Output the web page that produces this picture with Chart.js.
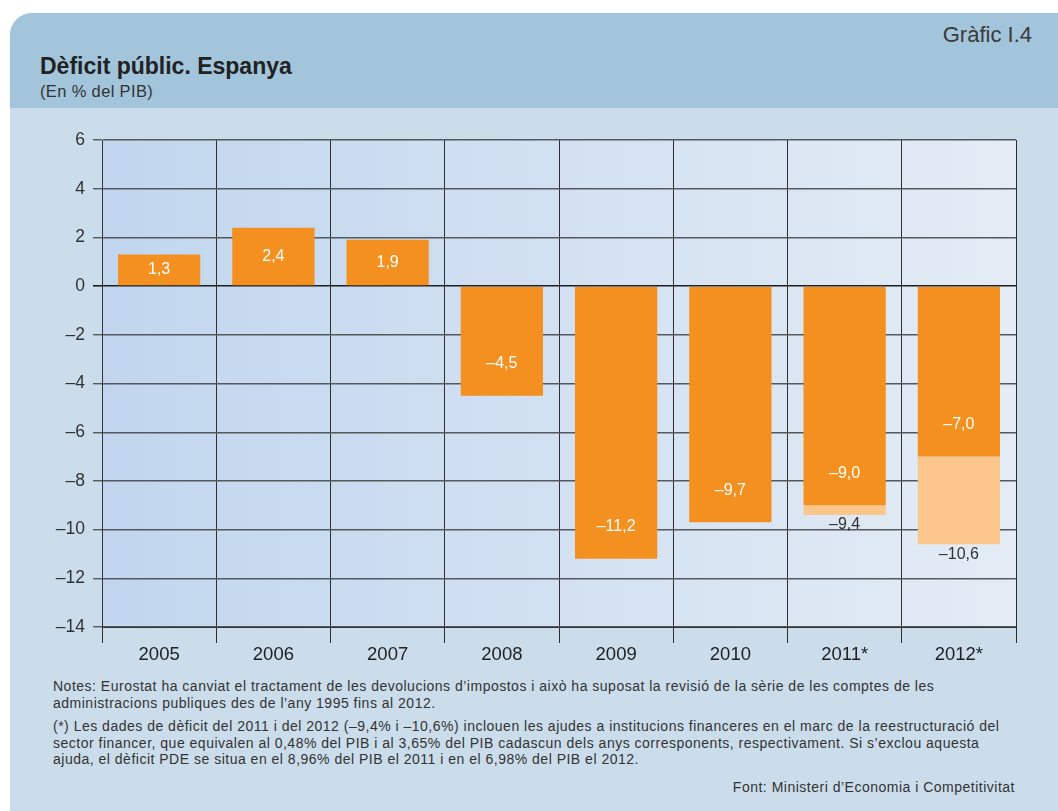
<!DOCTYPE html>
<html lang="ca">
<head>
<meta charset="utf-8">
<title>Dèficit públic. Espanya</title>
<script src="https://cdn.jsdelivr.net/npm/chart.js@4/dist/chart.umd.min.js"></script>
<style>
  html, body { margin: 0; padding: 0; background: #ffffff; }
  body { width: 1058px; height: 811px; position: relative; overflow: hidden;
         font-family: "Liberation Sans", Arial, Helvetica, sans-serif; color: #333; }
  #panel { position: absolute; left: 10px; top: 13px; width: 1048px; height: 798px;
           background: #cbddeb; border-top-left-radius: 22px; overflow: hidden; }
  #band { position: absolute; left: 0; top: 0; width: 100%; height: 95px; background: #a3c5dc; }
  .t { position: absolute; white-space: pre; line-height: 1; }
  #num { right: 26px; top: 11px; font-size: 22px; color: #3a3a3a; }
  #title { left: 30px; top: 42px; font-size: 23px; font-weight: bold; color: #222; }
  #sub { left: 30px; top: 70px; font-size: 16.5px; letter-spacing: 0.35px; color: #333; }
  .note { position: absolute; left: 43px; font-size: 14px; letter-spacing: 0.5px;
          line-height: 16.5px; white-space: pre; color: #333; }
  #src { position: absolute; right: 43px; top: 766px; font-size: 14px; letter-spacing: 0.5px;
         line-height: 16.5px; color: #333; }
  #chart { position: absolute; left: 0; top: 0; }
</style>
</head>
<body>
<div id="panel">
  <div id="band"></div>
  <div class="t" id="num">Gràfic I.4</div>
  <div class="t" id="title">Dèficit públic. Espanya</div>
  <div class="t" id="sub">(En % del PIB)</div>
  <div class="note" style="top:665px">Notes: Eurostat ha canviat el tractament de les devolucions d’impostos i això ha suposat la revisió de la sèrie de les comptes de les
administracions publiques des de l’any 1995 fins al 2012.</div>
  <div class="note" style="top:705px">(*) Les dades de dèficit del 2011 i del 2012 (–9,4% i –10,6%) inclouen les ajudes a institucions financeres en el marc de la reestructuració del
sector financer, que equivalen al 0,48% del PIB i al 3,65% del PIB cadascun dels anys corresponents, respectivament. Si s’exclou aquesta
ajuda, el dèficit PDE se situa en el 8,96% del PIB el 2011 i en el 6,98% del PIB el 2012.</div>
  <div id="src">Font: Ministeri d’Economia i Competitivitat</div>
</div>
<canvas id="chart" width="1058" height="811"></canvas>
<script>
// Public deficit of Spain, % of GDP
const years = ['2005', '2006', '2007', '2008', '2009', '2010', '2011*', '2012*'];
const deficit = [1.3, 2.4, 1.9, -4.5, -11.2, -9.7, -9.0, -7.0];
// Deficit including aid to financial institutions (only 2011 and 2012)
const deficitWithAid = [null, null, null, null, null, null, -9.4, -10.6];
const yTicks = [6, 4, 2, 0, -2, -4, -6, -8, -10, -12, -14];

const FONT = '"Liberation Sans", Arial, Helvetica, sans-serif';
const ORANGE = '#f39020';
const LIGHT_ORANGE = '#fbc68b';

// The light segment spans from the deficit without aid down to the total with aid
const aidPart = deficitWithAid.map((v, i) => v === null ? null : v - deficit[i]);

const fmt = v => v.toFixed(1).replace('.', ',').replace('-', '–');

// Plot-area background with a soft left-to-right blue gradient
const plotBackground = {
  id: 'plotBackground',
  beforeDraw(chart) {
    const { ctx, chartArea: a } = chart;
    const g = ctx.createLinearGradient(a.left, 0, a.right, 0);
    g.addColorStop(0, '#c1d6ee');
    g.addColorStop(1, '#e4ecf5');
    ctx.save();
    ctx.fillStyle = g;
    ctx.fillRect(a.left, a.top, a.right - a.left, a.bottom - a.top);
    ctx.restore();
  }
};

// Value labels: white inside the main bars, dark below the aid segment
const valueLabels = {
  id: 'valueLabels',
  afterDatasetsDraw(chart) {
    const { ctx } = chart;
    const main = chart.getDatasetMeta(0).data;
    const aid = chart.getDatasetMeta(1).data;
    ctx.save();
    ctx.font = '16px ' + FONT;
    ctx.textAlign = 'center';
    ctx.textBaseline = 'middle';
    deficit.forEach((v, i) => {
      const el = main[i];
      const len = Math.abs(el.base - el.y);
      const off = Math.min(v >= 0 ? 30 : 32, len / 2);
      const y = v >= 0 ? el.y + off : el.y - off;
      ctx.fillStyle = '#ffffff';
      ctx.fillText(fmt(v), el.x, y);
    });
    deficitWithAid.forEach((v, i) => {
      if (v === null) return;
      const el = aid[i];
      ctx.fillStyle = '#333333';
      ctx.fillText(fmt(v), el.x, el.y + 10);
    });
    ctx.restore();
  }
};

new Chart(document.getElementById('chart'), {
  type: 'bar',
  data: {
    labels: years,
    datasets: [
      { data: deficit, backgroundColor: ORANGE, stack: 's',
        categoryPercentage: 1, barPercentage: 0.72, borderWidth: 0 },
      { data: aidPart, backgroundColor: LIGHT_ORANGE, stack: 's',
        categoryPercentage: 1, barPercentage: 0.72, borderWidth: 0 }
    ]
  },
  options: {
    responsive: false,
    animation: false,
    devicePixelRatio: 1,
    layout: { padding: { left: 0, top: 140, right: 42, bottom: 134 } },
    plugins: { legend: { display: false }, tooltip: { enabled: false } },
    scales: {
      x: {
        stacked: true,
        afterFit(s) { s.height = 50; s.paddingLeft = 0; s.paddingRight = 0; },
        grid: { offset: true, color: '#2f2f2f', lineWidth: 1, tickLength: 16, drawTicks: true },
        border: { display: true, color: '#333333', width: 1 },
        ticks: { color: '#222222', padding: 1, font: { family: FONT, size: 18.5 } }
      },
      y: {
        stacked: true,
        min: Math.min(...yTicks),
        max: Math.max(...yTicks),
        afterFit(s) { s.width = 102; s.paddingTop = 0; s.paddingBottom = 0; },
        afterBuildTicks(s) { s.ticks = yTicks.map(v => ({ value: v })); },
        grid: {
          color: c => (c.tick && c.tick.value === 0) ? '#1f1f1f' : '#55595e',
          lineWidth: c => (c.tick && c.tick.value === 0) ? 1.6 : 1.4,
          tickLength: 9
        },
        border: { display: true, color: '#333333', width: 1 },
        ticks: {
          color: '#333333', padding: 8, font: { family: FONT, size: 17.5 },
          callback: v => String(v).replace('-', '–')
        }
      }
    }
  },
  plugins: [plotBackground, valueLabels]
});
</script>
</body>
</html>
